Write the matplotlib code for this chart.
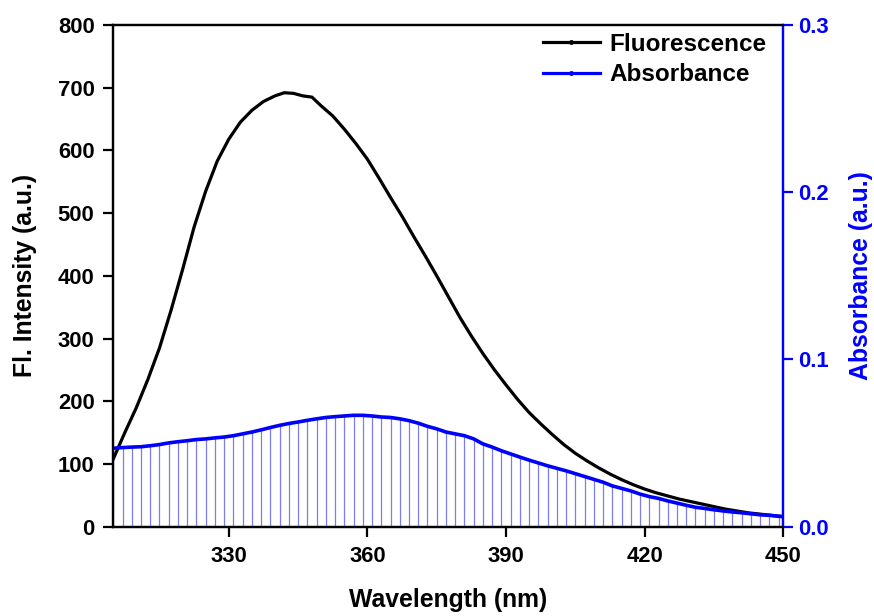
import matplotlib
matplotlib.use("Agg")
import matplotlib.pyplot as plt
from matplotlib.lines import Line2D
import numpy as np

plt.rcParams['font.family'] = ['Liberation Sans', 'DejaVu Sans']
plt.rcParams['font.weight'] = 'bold'

# Fluorescence emission (a.u.)
fl_wl = [305, 307.5, 310, 312.5, 315, 317.5, 320, 322.5, 325, 327.5, 330, 332.5, 335, 337.5,
         340, 342, 344, 346, 348, 350, 352.5, 355, 357.5, 360, 362.5, 365, 367.5, 370, 372.5,
         375, 377.5, 380, 382.5, 385, 387.5, 390, 392.5, 395, 397.5, 400, 402.5, 405, 407.5,
         410, 412.5, 415, 417.5, 420, 422.5, 425, 427.5, 430, 432.5, 435, 437.5, 440, 442.5,
         445, 447.5, 450]
fl_val = [108, 150, 190, 235, 285, 345, 410, 478, 535, 583, 618, 645, 664, 678,
          687, 692, 691, 687, 685, 671, 655, 634, 611, 586, 556, 525, 495, 463, 432,
          400, 367, 334, 304, 276, 250, 226, 203, 182, 164, 147, 131, 117, 105,
          94, 84, 75, 67, 60, 54, 49, 44, 40, 36, 32, 28, 25, 22,
          20, 18, 16]

# Absorbance (a.u.)
ab_wl = list(range(305, 450, 2)) + [450]
ab_val = [0.0469, 0.0473, 0.0476, 0.0478, 0.0484, 0.0491, 0.0501, 0.0508, 0.0514, 0.0521,
          0.0525, 0.0531, 0.0536, 0.0544, 0.0555, 0.0566, 0.0579, 0.0593, 0.0606, 0.0617,
          0.0626, 0.0636, 0.0645, 0.0653, 0.0658, 0.0662, 0.0666, 0.0666, 0.0662, 0.0656,
          0.0653, 0.0645, 0.0634, 0.0619, 0.0600, 0.0585, 0.0566, 0.0555, 0.0544, 0.0525,
          0.0495, 0.0476, 0.0454, 0.0435, 0.0416, 0.0398, 0.0381, 0.0364, 0.0349, 0.0334,
          0.0317, 0.0300, 0.0283, 0.0266, 0.0244, 0.0229, 0.0214, 0.0195, 0.0180, 0.0169,
          0.0154, 0.0141, 0.0128, 0.0116, 0.0109, 0.0101, 0.0094, 0.0088, 0.0083, 0.0077,
          0.0071, 0.0068, 0.0062, 0.0060]

x_ticks = [330, 360, 390, 420, 450]
y1_ticks = [0, 100, 200, 300, 400, 500, 600, 700, 800]
y2_ticks = [0.0, 0.1, 0.2, 0.3]

BLUE = '#0000ff'
TICK_FS = 15.8
LABEL_FS = 17.8

fig = plt.figure(figsize=(8.74, 6.16), dpi=100)
ax1 = fig.add_axes([0.1296, 0.145, 0.7666, 0.8144])
ax2 = ax1.twinx()

ax1.plot(fl_wl, fl_val, color='black', lw=2.3, solid_joinstyle='round', zorder=3)
ax2.vlines(ab_wl, 0, ab_val, color='#5a5af0', lw=0.9, alpha=0.8, zorder=1)
ax2.plot(ab_wl, ab_val, color=BLUE, lw=2.6, solid_joinstyle='round', zorder=2)

ax1.set_xlim(305, 450)
ax1.set_ylim(0, 800)
ax2.set_ylim(0, 0.3)
ax1.set_xticks(x_ticks)
ax1.set_yticks(y1_ticks)
ax2.set_yticks(y2_ticks)
ax2.set_yticklabels(['%.1f' % v for v in y2_ticks])

for ax in (ax1, ax2):
    for s in ax.spines.values():
        s.set_linewidth(1.6)
ax2.spines['right'].set_color(BLUE)
ax1.spines['right'].set_color(BLUE)

ax1.tick_params(axis='both', direction='out', length=7, width=1.6, labelsize=TICK_FS,
                colors='black', pad=6.5)
ax2.tick_params(axis='y', direction='out', length=7, width=1.6, labelsize=TICK_FS,
                colors=BLUE, pad=4)
ax1.tick_params(axis='x', pad=7)

for lab in ax1.get_xticklabels() + ax1.get_yticklabels() + ax2.get_yticklabels():
    lab.set_fontweight('bold')

ax1.set_xlabel('Wavelength (nm)', fontsize=LABEL_FS, fontweight='bold', labelpad=15)
ax1.set_ylabel('Fl. Intensity (a.u.)', fontsize=LABEL_FS, fontweight='bold', labelpad=15)
ax2.set_ylabel('Absorbance (a.u.)', fontsize=LABEL_FS, fontweight='bold', color=BLUE, labelpad=14)

handles = [Line2D([], [], color='black', lw=2.3, marker='o', markersize=2.5),
           Line2D([], [], color=BLUE, lw=2.3, marker='o', markersize=2.5)]
leg = ax2.legend(handles, ['Fluorescence', 'Absorbance'], loc='upper left',
                 bbox_to_anchor=(0.634, 0.994), frameon=False, numpoints=1,
                 handlelength=2.34, handletextpad=0.41, labelspacing=0.31,
                 prop={'size': 17.5, 'weight': 'bold'}, borderaxespad=0.0, borderpad=0.2)

fig.savefig('out.png', dpi=100)
